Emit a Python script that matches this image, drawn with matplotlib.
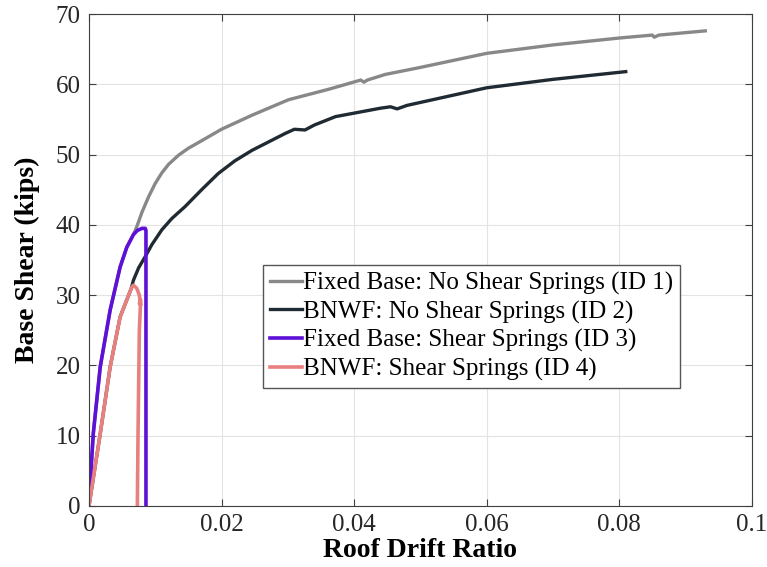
import numpy as np
import matplotlib.pyplot as plt

# pushover curves: roof drift ratio vs base shear (kips)
drift_id1 = [0, 0.0003, 0.00065, 0.0017, 0.0032, 0.0047, 0.0057, 0.0067, 0.0072, 0.008,
             0.009, 0.010, 0.011, 0.012, 0.0135, 0.015, 0.0165, 0.02, 0.0246, 0.0301,
             0.0362, 0.041, 0.0415, 0.042, 0.0447, 0.05, 0.06, 0.07, 0.0802, 0.085,
             0.0853, 0.086, 0.093]
shear_id1 = [0, 5.0, 10.3, 19.8, 27.9, 34.0, 36.8, 38.6, 39.7, 41.8,
             44.0, 45.9, 47.4, 48.6, 49.9, 50.9, 51.7, 53.6, 55.6, 57.8,
             59.3, 60.6, 60.3, 60.6, 61.4, 62.4, 64.4, 65.6, 66.6, 67.0,
             66.7, 67.0, 67.6]

drift_id2 = [0, 0.0017, 0.0032, 0.0047, 0.0064, 0.0067, 0.0075, 0.0085, 0.0095, 0.011,
             0.0125, 0.0145, 0.017, 0.0195, 0.022, 0.0246, 0.0296, 0.031, 0.0326, 0.034,
             0.0372, 0.044, 0.0455, 0.0465, 0.048, 0.06, 0.07, 0.081]
shear_id2 = [0, 10.3, 19.8, 26.9, 31.0, 32.1, 33.9, 35.5, 37.2, 39.3,
             40.9, 42.6, 45.0, 47.3, 49.1, 50.6, 53.0, 53.6, 53.5, 54.2,
             55.4, 56.6, 56.8, 56.5, 57.0, 59.5, 60.7, 61.8]

drift_id3 = [0, 0.0003, 0.00065, 0.0017, 0.0032, 0.0047, 0.0057, 0.0067, 0.0073, 0.008,
             0.0085, 0.0086, 0.0086]
shear_id3 = [0, 5.0, 10.3, 19.8, 27.9, 34.0, 36.8, 38.6, 39.2, 39.5,
             39.5, 39.2, 0]

drift_id4 = [0, 0.0017, 0.0032, 0.0047, 0.0064, 0.0067, 0.0072, 0.0076, 0.0078, 0.0076,
             0.0078, 0.0076, 0.0074, 0.0073]
shear_id4 = [0, 10.3, 19.8, 26.9, 31.0, 31.4, 31.0, 30.0, 28.6, 28.8,
             29.3, 25.0, 10.0, 0]

labels = ['Fixed Base: No Shear Springs (ID 1)', 'BNWF: No Shear Springs (ID 2)',
          'Fixed Base: Shear Springs (ID 3)', 'BNWF: Shear Springs (ID 4)']

plt.rcParams['font.family'] = ['Liberation Serif', 'DejaVu Serif']

fig = plt.figure(figsize=(7.67, 5.67), dpi=100)
ax = fig.add_axes([0.116, 0.1076, 0.864, 0.8677])

ax.plot(drift_id1, shear_id1, color='#888888', lw=2.4, label=labels[0])
ax.plot(drift_id2, shear_id2, color='#1f2a33', lw=2.4, label=labels[1])
ax.plot(drift_id3, shear_id3, color='#5e10d8', lw=2.6, label=labels[2])
ax.plot(drift_id4, shear_id4, color='#e88080', lw=2.6, label=labels[3])

ax.set_xlim(0, 0.1)
ax.set_ylim(0, 70)
ax.set_xticks([0, 0.02, 0.04, 0.06, 0.08, 0.1])
ax.set_xticklabels(['0', '0.02', '0.04', '0.06', '0.08', '0.1'])
ax.set_yticks(range(0, 71, 10))
ax.tick_params(direction='in', top=True, right=True, labelsize=18, length=5,
               color='#404040', labelcolor='#262626', pad=6)
ax.grid(True, color='#e3e3e3', lw=0.8)
ax.set_axisbelow(True)
for s in ax.spines.values():
    s.set_color('#404040')

ax.set_xlabel('Roof Drift Ratio', fontsize=20, fontweight='bold', labelpad=1)
ax.set_ylabel('Base Shear (kips)', fontsize=20, fontweight='bold', labelpad=11)

leg = ax.legend(loc='upper left', bbox_to_anchor=(0.262, 0.49), borderaxespad=0,
                fontsize=18, handlelength=1.3, handletextpad=0.05, labelspacing=0.22,
                fancybox=False, framealpha=1, edgecolor='#555555', borderpad=0.28)
leg.get_frame().set_linewidth(1.0)

fig.savefig('out.png', dpi=100)
